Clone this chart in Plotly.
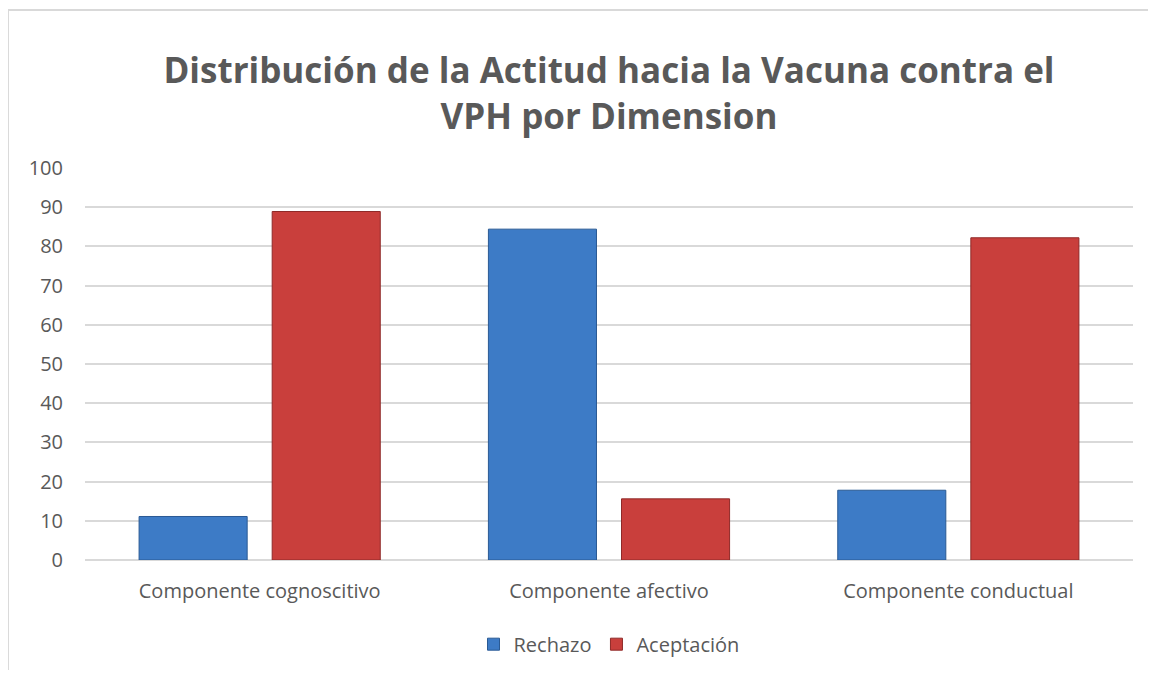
import plotly.graph_objects as go

categorias = ["Componente cognoscitivo", "Componente afectivo", "Componente conductual"]
rechazo = [11.1, 84.4, 17.8]
aceptacion = [88.9, 15.6, 82.2]
ticks_y = [0, 10, 20, 30, 40, 50, 60, 70, 80, 90, 100]

gris = "#595959"

fig = go.Figure(
    data=[
        go.Bar(
            name="Rechazo",
            x=categorias,
            y=rechazo,
            marker=dict(color="#3d7bc6", line=dict(color="#2a5a94", width=1)),
        ),
        go.Bar(
            name="Aceptación",
            x=categorias,
            y=aceptacion,
            marker=dict(color="#c93f3c", line=dict(color="#8f2a28", width=1)),
        ),
    ]
)

# la pagina tiene 8px de margen en el body, por eso la figura es algo menor
fig.update_layout(
    width=1140,
    height=662,
    margin=dict(l=77, r=15, t=160, b=110, autoexpand=False),
    paper_bgcolor="white",
    plot_bgcolor="white",
    font=dict(family="Open Sans", color=gris, size=20),
    title=dict(
        text="<b>Distribución de la Actitud hacia la Vacuna contra el<br>VPH por Dimension</b>",
        x=0.5,
        xref="paper",
        xanchor="center",
        y=0.886,
        yref="container",
        yanchor="middle",
        font=dict(family="Open Sans", size=35, color=gris),
    ),
    barmode="group",
    bargap=0.238,
    bargroupgap=0.188,
    showlegend=True,
    legend=dict(
        orientation="h",
        x=0.5,
        xanchor="center",
        yref="container",
        y=0.039,
        yanchor="middle",
        font=dict(size=20, color=gris),
        traceorder="normal",
        itemwidth=30,
    ),
    xaxis=dict(
        showgrid=False,
        showline=False,
        ticks="",
        tickfont=dict(size=20, color=gris),
        ticklabelstandoff=17,
    ),
    yaxis=dict(
        range=[0, 100],
        tickvals=ticks_y,
        showgrid=True,
        gridcolor="#d9d9d9",
        gridwidth=1.5,
        zeroline=True,
        zerolinecolor="#d9d9d9",
        zerolinewidth=1.5,
        showline=False,
        ticks="",
        tickfont=dict(size=20, color=gris),
        ticklabelstandoff=21,
    ),
    shapes=[
        dict(
            type="rect",
            xref="paper",
            yref="paper",
            x0=-0.0735,
            x1=1.05,
            y0=-0.35,
            y1=1.403,
            line=dict(color="#d9d9d9", width=2),
            fillcolor="rgba(0,0,0,0)",
            layer="below",
        )
    ],
)

fig.write_html("out.html")
